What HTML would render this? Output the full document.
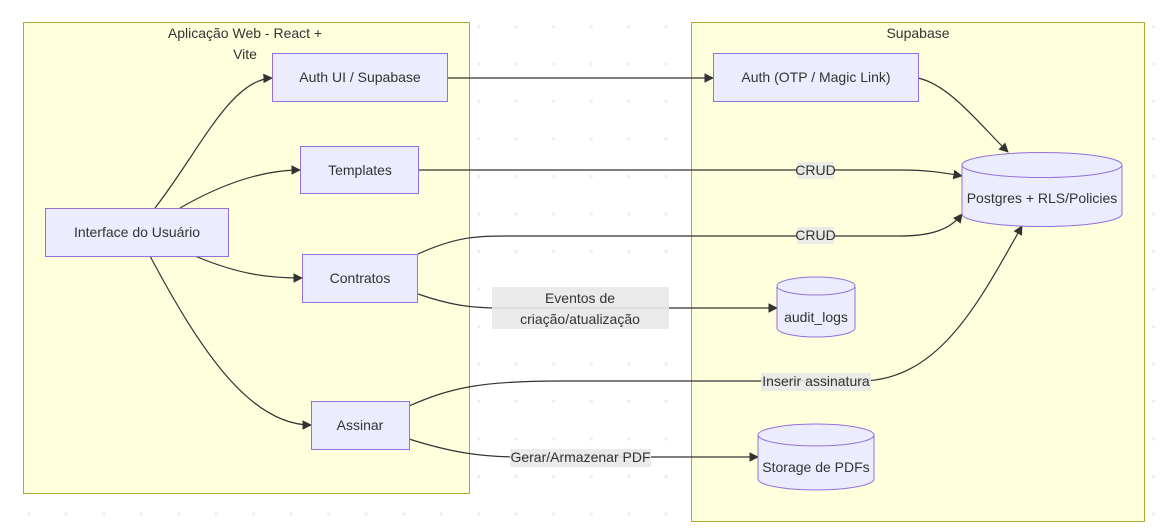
<!DOCTYPE html>
<html><head><meta charset="utf-8"><style>
body{margin:0;background:#fff;}
svg{display:block;font-family:"Trebuchet MS","Liberation Sans",sans-serif;}
text{font-size:14px;fill:#333;}
.n{fill:#ECECFF;stroke:#9370DB;stroke-width:1;}
.c{fill:#FFFFDE;stroke:#AAAA33;stroke-width:1;}
.e{fill:none;stroke:#333;stroke-width:1.2;}
.lb{fill:#e8e8e8;opacity:0.9;}
</style></head><body>
<svg width="1163" height="530" viewBox="0 0 1163 530" xmlns="http://www.w3.org/2000/svg">
<defs>
<pattern id="dots" x="27.2" y="25" width="37.5" height="37.5" patternUnits="userSpaceOnUse"><rect x="0" y="0" width="3" height="3" fill="#eeeeee"/></pattern>
<marker id="a" viewBox="0 0 10 10" refX="9" refY="5" markerWidth="8" markerHeight="8" orient="auto"><path d="M0,0L10,5L0,10z" fill="#333"/></marker>
</defs>
<rect width="1163" height="530" fill="url(#dots)"/>
<rect class="c" x="23.5" y="22.5" width="446" height="471"/>
<rect class="c" x="691.5" y="22.5" width="453" height="499"/>
<text x="245" y="38" text-anchor="middle">Aplicação Web - React +</text>
<text x="245" y="59" text-anchor="middle">Vite</text>
<text x="918" y="38" text-anchor="middle">Supabase</text>

<!-- edges -->
<path class="e" marker-end="url(#a)" d="M155,208 C200,150 230,80 272,78"/>
<path class="e" marker-end="url(#a)" d="M180,208 C220,185 260,170 300,170"/>
<path class="e" marker-end="url(#a)" d="M195,256 C240,275 270,278 302,278"/>
<path class="e" marker-end="url(#a)" d="M150,256 C200,350 250,425 311,425"/>
<path class="e" marker-end="url(#a)" d="M447,78 L713,78"/>
<path class="e" marker-end="url(#a)" d="M918,78 C950,85 980,125 1008,152"/>
<path class="e" marker-end="url(#a)" d="M418,170 L900,170 C930,170 945,173 962,176"/>
<path class="e" marker-end="url(#a)" d="M418,254 C460,235 480,236 520,236 L900,236 C930,236 950,230 962,214"/>
<path class="e" marker-end="url(#a)" d="M418,294 C450,305 470,308 500,308 L777,308"/>
<path class="e" marker-end="url(#a)" d="M409,406 C450,388 480,381 560,381 L860,381 C940,381 980,300 1022,226"/>
<path class="e" marker-end="url(#a)" d="M409,439 C450,452 480,457 520,457 L758,457"/>

<!-- labels -->
<rect class="lb" x="797" y="162" width="37" height="17"/><text x="815.5" y="175" text-anchor="middle">CRUD</text>
<rect class="lb" x="797" y="227" width="37" height="17"/><text x="815.5" y="240" text-anchor="middle">CRUD</text>
<rect class="lb" x="492" y="287" width="177" height="42"/>
<text x="580" y="303" text-anchor="middle">Eventos de</text>
<text x="580" y="324" text-anchor="middle">criação/atualização</text>
<rect class="lb" x="761" y="373" width="110" height="18"/><text x="816" y="386" text-anchor="middle">Inserir assinatura</text>
<rect class="lb" x="510" y="449" width="141" height="18"/><text x="580.5" y="462" text-anchor="middle">Gerar/Armazenar PDF</text>

<!-- nodes -->
<rect class="n" x="272.5" y="53.5" width="175" height="48"/><text x="360" y="82" text-anchor="middle">Auth UI / Supabase</text>
<rect class="n" x="300.5" y="146.5" width="118" height="47"/><text x="360" y="175" text-anchor="middle">Templates</text>
<rect class="n" x="45.5" y="208.5" width="183" height="48"/><text x="137" y="237" text-anchor="middle">Interface do Usuário</text>
<rect class="n" x="302.5" y="254.5" width="115" height="48"/><text x="360" y="283" text-anchor="middle">Contratos</text>
<rect class="n" x="311.5" y="401.5" width="98" height="48"/><text x="360" y="430" text-anchor="middle">Assinar</text>
<rect class="n" x="713.5" y="53.5" width="205" height="48"/><text x="816" y="82" text-anchor="middle">Auth (OTP / Magic Link)</text>

<!-- cylinders -->
<path class="n" d="M962,165 a80,12.5 0 0 1 160,0 v49 a80,12.5 0 0 1 -160,0 z"/>
<path fill="none" stroke="#9370DB" d="M962,165 a80,12.5 0 0 0 160,0"/>
<text x="1042" y="203" text-anchor="middle">Postgres + RLS/Policies</text>

<path class="n" d="M777,286 a39,9 0 0 1 78,0 v42 a39,9 0 0 1 -78,0 z"/>
<path fill="none" stroke="#9370DB" d="M777,286 a39,9 0 0 0 78,0"/>
<text x="816" y="322" text-anchor="middle">audit_logs</text>

<path class="n" d="M758,435 a58,11 0 0 1 116,0 v44 a58,11 0 0 1 -116,0 z"/>
<path fill="none" stroke="#9370DB" d="M758,435 a58,11 0 0 0 116,0"/>
<text x="816" y="472" text-anchor="middle">Storage de PDFs</text>
</svg>
</body></html>
